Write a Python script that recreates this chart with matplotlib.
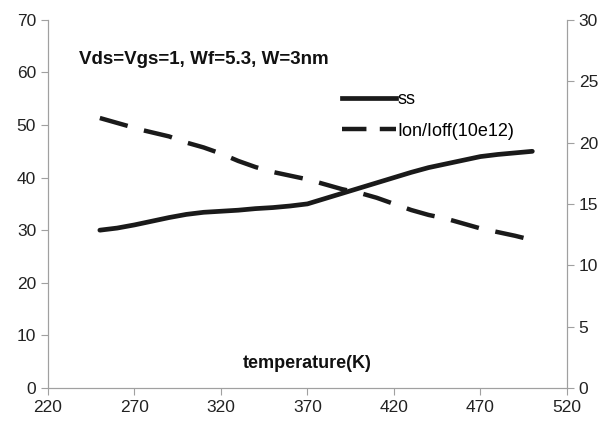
import matplotlib.pyplot as plt
from matplotlib.lines import Line2D

plt.rcParams['font.family'] = ['Liberation Sans', 'DejaVu Sans']

temp_ss = [250, 260, 270, 280, 290, 300, 310, 320, 330, 340, 350, 360, 370,
           380, 390, 400, 410, 420, 430, 440, 450, 460, 470, 480, 490, 500]
ss = [30, 30.4, 31, 31.7, 32.4, 33, 33.4, 33.6, 33.8, 34.1, 34.3, 34.6, 35,
      36, 37, 38, 39, 40, 41, 41.9, 42.6, 43.3, 44, 44.4, 44.7, 45]

temp_ratio = [250, 260, 275, 290, 300, 310, 320, 330, 340, 350, 360, 370, 380,
              390, 400, 410, 420, 430, 440, 450, 460, 470, 480, 490, 500]
ion_ioff = [22, 21.6, 21, 20.5, 20, 19.6, 19.1, 18.5, 18, 17.6, 17.3, 17, 16.6,
            16.2, 15.9, 15.5, 15, 14.5, 14.1, 13.8, 13.4, 13.0, 12.7, 12.4, 12.05]

grey = '#a0a0a0'
fig = plt.figure(figsize=(6.07, 4.23), dpi=100)
ax = fig.add_axes([0.079, 0.083, 0.855, 0.87])
ax2 = ax.twinx()

ax.plot(temp_ss, ss, color='#1a1a1a', lw=3.4, solid_capstyle='round',
        solid_joinstyle='round')
ax2.plot(temp_ratio, ion_ioff, color='#1a1a1a', lw=3.2, dashes=(6.5, 3.8))

ax.set_xlim(220, 520)
ax.set_ylim(0, 70)
ax2.set_ylim(0, 30)
ax.set_xticks(range(220, 521, 50))
ax.set_yticks(range(0, 71, 10))
ax2.set_yticks(range(0, 31, 5))

for a in (ax, ax2):
    a.spines['top'].set_visible(False)
    for s in ('left', 'right', 'bottom'):
        a.spines[s].set_color(grey)
    a.tick_params(colors=grey, labelcolor='#222222', labelsize=12.5, length=5,
                  direction='out')

ax.text(0.06, 0.88, 'Vds=Vgs=1, Wf=5.3, W=3nm', transform=ax.transAxes,
        fontsize=13.5, fontweight='bold', color='#111111')
ax.text(0.5, 0.055, 'temperature(K)', transform=ax.transAxes, ha='center',
        fontsize=13, fontweight='bold', color='#111111')

handles = [Line2D([], [], color='#1a1a1a', lw=3.4),
           Line2D([], [], color='#1a1a1a', lw=3.2, dashes=(5.5, 3))]
ax.legend(handles, ['ss', 'Ion/Ioff(10e12)'], loc='upper left',
          bbox_to_anchor=(0.535, 0.85), frameon=False, fontsize=13,
          handlelength=3.0, handletextpad=0.1, labelspacing=0.8)

fig.savefig('out.png', dpi=100)
